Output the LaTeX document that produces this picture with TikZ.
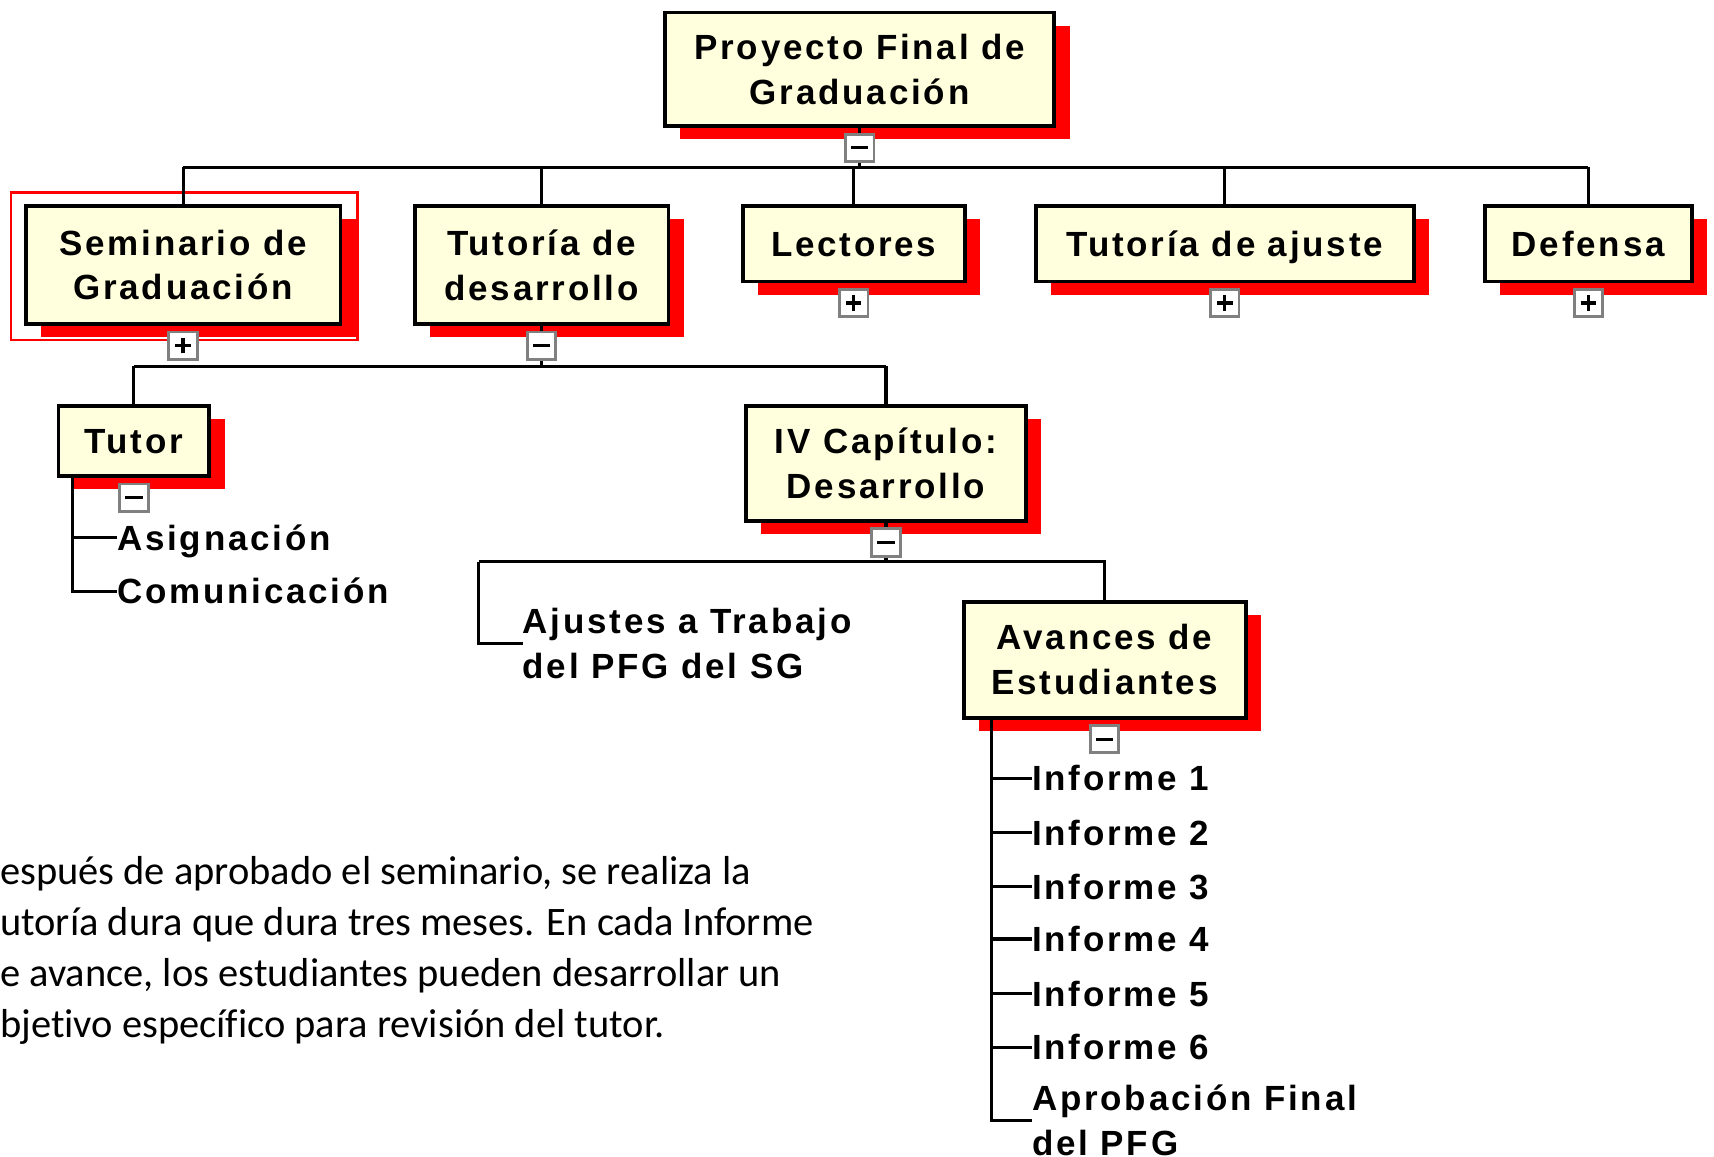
\documentclass[tikz,border=0pt]{standalone}
\usepackage{fontspec}
\setmainfont{Liberation Sans}
\newfontfamily\boxfont[LetterSpace=8]{Liberation Sans}
\newfontfamily\parafont[Ligatures=NoCommon]{Carlito}
\usetikzlibrary{shadows}
\definecolor{boxfill}{HTML}{FFFFDD}
\definecolor{btngray}{HTML}{808080}
\tikzset{
  box/.style={draw=black, line width=3.5pt, fill=boxfill, inner sep=0pt, align=center,
    font=\boxfont\bfseries\fontsize{32}{41}\selectfont,
    general shadow={fill=red, shadow xshift=14pt, shadow yshift=-12pt}},
  onebox/.style={box, text height=23pt, text depth=0pt},
  conn/.style={line width=2.8pt, black},
  btn/.style={draw=btngray, fill=white, line width=2.6pt, minimum width=26pt, minimum height=25pt, inner sep=0pt},
  btnminus/.style={btn, path picture={\draw[black,line width=3pt] ([xshift=-8pt]path picture bounding box.center) -- ([xshift=8pt]path picture bounding box.center);}},
  btnplus/.style={btn, path picture={\draw[black,line width=3pt] ([xshift=-7pt]path picture bounding box.center) -- ([xshift=7pt]path picture bounding box.center) ([yshift=-7pt]path picture bounding box.center) -- ([yshift=7pt]path picture bounding box.center);}},
  leaf/.style={inner sep=0pt, anchor=west, text height=23pt, text depth=0pt, font=\boxfont\bfseries\fontsize{32}{41}\selectfont},
  leaftwo/.style={inner sep=0pt, anchor=west, align=left, font=\boxfont\bfseries\fontsize{32}{41}\selectfont},
  para/.style={inner sep=0pt, anchor=base west, font=\parafont\fontsize{37}{47}\selectfont}
}
\begin{document}
\begin{tikzpicture}[x=1pt, y=-1pt]
\useasboundingbox (0,0) rectangle (1568,1058);
% selection outline
\draw[red, line width=2.2pt] (10,176) rectangle (327,311);
% boxes
\node[box, minimum width=356pt, minimum height=104pt] (root) at (786.5,63.5) {Proyecto Final de\\Graduación};
\node[box, minimum width=288pt, minimum height=108pt] (sem) at (167.5,242.5) {Seminario de\\Graduación};
\node[box, minimum width=232pt, minimum height=108pt] (tdes) at (495.5,242.5) {Tutoría de\\desarrollo};
\node[onebox, minimum width=203pt, minimum height=69pt] (lect) at (781,223) {Lectores};
\node[onebox, minimum width=346pt, minimum height=69pt] (tajus) at (1120.5,223) {Tutoría de ajuste};
\node[onebox, minimum width=189pt, minimum height=69pt] (def) at (1453,223) {Defensa};
\node[onebox, minimum width=138pt, minimum height=64pt] (tutor) at (122.5,403.5) {Tutor};
\node[box, minimum width=256pt, minimum height=105pt] (cap) at (810.5,424) {IV Capítulo:\\Desarrollo};
\node[box, minimum width=258pt, minimum height=106pt] (avan) at (1010.5,603.5) {Avances de\\Estudiantes};
% leaves
\node[leaf] (asig) at (107,492) {Asignación};
\node[leaf] (com) at (107,541) {Comunicación};
\node[leaftwo] (ajus) at (478,589) {Ajustes a Trabajo\\del PFG del SG};
\node[leaf] (i1) at (944,712) {Informe 1};
\node[leaf] (i2) at (944,762) {Informe 2};
\node[leaf] (i3) at (944,811) {Informe 3};
\node[leaf] (i4) at (944,859) {Informe 4};
\node[leaf] (i5) at (944,909) {Informe 5};
\node[leaf] (i6) at (944,958) {Informe 6};
\node[leaftwo] (apr) at (944,1025) {Aprobación Final\\del PFG};
% connectors
\coordinate (bus1) at (0,153);
\coordinate (bus2) at (0,335);
\coordinate (bus3) at (0,514);
\draw[conn] (root.south) -- (root.south |- bus1);
\draw[conn] (sem.north |- bus1) -- (def.north |- bus1);
\foreach \n in {sem,tdes,lect,tajus,def} \draw[conn] (\n.north |- bus1) -- (\n.north);
\draw[conn] (tdes.south) -- (tdes.south |- bus2);
\draw[conn] (tutor.north |- bus2) -- (cap.north |- bus2);
\draw[conn] (tutor.north |- bus2) -- (tutor.north);
\draw[conn] (cap.north |- bus2) -- (cap.north);
\coordinate (tt) at ([xshift=15pt]tutor.south west);
\draw[conn] (tt) -- (tt |- com.west) -- (com.west);
\draw[conn] (tt |- asig.west) -- (asig.west);
\draw[conn] (cap.south) -- (cap.south |- bus3);
\coordinate (ajc) at (438,514);
\draw[conn] (ajc) -- (avan.north |- bus3) -- (avan.north);
\draw[conn] (ajc) -- (ajc |- ajus.west) -- (ajus.west);
\coordinate (at) at ([xshift=27pt]avan.south west);
\draw[conn] (at) -- (at |- apr.west) -- (apr.west);
\foreach \n in {i1,i2,i3,i4,i5,i6} \draw[conn] (at |- \n.west) -- (\n.west);
% buttons
\node[btnminus] (broot) at ([yshift=-18pt]root.south) {};
\node[btnplus] (bsem) at ([yshift=-18pt]sem.south) {};
\node[btnminus] (btdes) at ([yshift=-18pt]tdes.south) {};
\node[btnplus] (blect) at ([yshift=-18pt]lect.south) {};
\node[btnplus] (btajus) at ([yshift=-18pt]tajus.south) {};
\node[btnplus] (bdef) at ([yshift=-18pt]def.south) {};
\node[btnminus] (btutor) at ([yshift=-18pt]tutor.south) {};
\node[btnminus] (bcap) at ([yshift=-18pt]cap.south) {};
\node[btnminus] (bavan) at ([yshift=-18pt]avan.south) {};
% paragraph
\node[para] (p1) at (0,809) {espués de aprobado el seminario, se realiza la};
\node[para] (p2) at (0,856) {utoría dura que dura tres meses. En cada Informe};
\node[para] (p3) at (0,902) {e avance, los estudiantes pueden desarrollar un};
\node[para] (p4) at (0,949) {bjetivo específico para revisión del tutor.};
\end{tikzpicture}
\end{document}
